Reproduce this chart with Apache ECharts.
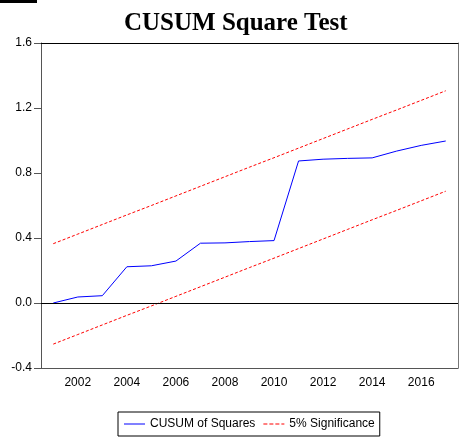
<!DOCTYPE html>
<html><head><meta charset="utf-8">
<script src="https://cdn.jsdelivr.net/npm/echarts@6/dist/echarts.min.js"></script>
<style>html,body{margin:0;padding:0;background:#fff}#c{width:461px;height:437px}</style>
</head><body><div id="c"></div>
<script>
var years = ['2001','2002','2003','2004','2005','2006','2007','2008','2009','2010','2011','2012','2013','2014','2015','2016','2017'];
var cusumSq = [0.0, 0.037, 0.045, 0.223, 0.229, 0.258, 0.368, 0.370, 0.378, 0.384, 0.874, 0.885, 0.890, 0.893, 0.935, 0.970, 0.997];
var upper = [0.365, 0.424, 0.483, 0.542, 0.600, 0.659, 0.718, 0.777, 0.836, 0.894, 0.953, 1.012, 1.071, 1.130, 1.188, 1.247, 1.306];
var lower = [-0.253, -0.194, -0.135, -0.076, -0.018, 0.041, 0.100, 0.159, 0.218, 0.276, 0.335, 0.394, 0.453, 0.512, 0.570, 0.629, 0.688];
var yTicks = {min: -0.4, max: 1.6, interval: 0.4};

var chart = echarts.init(document.getElementById('c'), null, {renderer: 'canvas'});
var font = '"Liberation Sans", Arial, sans-serif';
chart.setOption({
  animation: false,
  backgroundColor: '#fff',
  title: {
    text: 'CUSUM Square Test', left: 119, top: 6,
    textStyle: {fontFamily: '"Liberation Serif", "Times New Roman", serif', fontWeight: 'bold', fontSize: 25, color: '#000'}
  },
  graphic: [{type: 'rect', left: 0, top: 0, shape: {width: 37, height: 3}, style: {fill: '#000'}}],
  grid: {left: 41, right: 3, top: 43, bottom: 69},
  legend: {
    left: 118, top: 412,
    padding: [6, 5, 6, 6],
    borderColor: '#000', borderWidth: 1,
    itemWidth: 21, itemHeight: 8, itemGap: 8,
    textStyle: {fontFamily: font, fontSize: 12, color: '#000'},
    data: [
      {name: 'CUSUM of Squares', icon: 'path://M0,4L21,4L21,5L0,5Z'},
      {name: '5% Significance', icon: 'path://M0,4L4,4L4,5L0,5ZM6,4L10,4L10,5L6,5ZM12,4L16,4L16,5L12,5ZM18,4L21,4L21,5L18,5Z'}
    ]
  },
  xAxis: [{
    type: 'category', data: years, boundaryGap: true,
    axisLine: {onZero: false, lineStyle: {color: '#555', width: 1}},
    axisTick: {interval: 0, length: 7, lineStyle: {color: '#555'}},
    axisLabel: {interval: function (i) { return i % 2 === 1; }, fontFamily: font, fontSize: 12, color: '#000', margin: 9},
    splitLine: {show: false}
  }, {
    type: 'category', data: years, position: 'top', boundaryGap: true,
    axisLine: {show: true, onZero: false, lineStyle: {color: '#000', width: 1}},
    axisTick: {show: false}, axisLabel: {show: false}
  }],
  yAxis: [{
    type: 'value', min: yTicks.min, max: yTicks.max, interval: yTicks.interval,
    axisLine: {show: true, onZero: false, lineStyle: {color: '#555'}},
    axisTick: {show: true, length: 7, lineStyle: {color: '#555'}},
    axisLabel: {formatter: function (v) { return v.toFixed(1); }, fontFamily: font, fontSize: 12, color: '#000', margin: 9},
    splitLine: {show: false}
  }, {
    type: 'value', position: 'right', min: yTicks.min, max: yTicks.max, interval: yTicks.interval,
    axisLine: {show: true, onZero: false, lineStyle: {color: '#777'}},
    axisTick: {show: false}, axisLabel: {show: false}, splitLine: {show: false}
  }],
  series: [{
    name: 'CUSUM of Squares', type: 'line', data: cusumSq, symbol: 'none',
    lineStyle: {color: '#0000ff', width: 1}, itemStyle: {color: '#0000ff'},
    markLine: {silent: true, symbol: 'none', label: {show: false},
      lineStyle: {color: '#000', width: 1, type: 'solid'}, data: [{yAxis: 0}]}
  }, {
    name: '5% Significance', type: 'line', data: upper, symbol: 'none',
    lineStyle: {color: '#ff0000', width: 1, type: [3, 2]}, itemStyle: {color: '#ff0000'}
  }, {
    name: '5% Significance', type: 'line', data: lower, symbol: 'none',
    lineStyle: {color: '#ff0000', width: 1, type: [3, 2]}, itemStyle: {color: '#ff0000'}
  }]
});
</script></body></html>
